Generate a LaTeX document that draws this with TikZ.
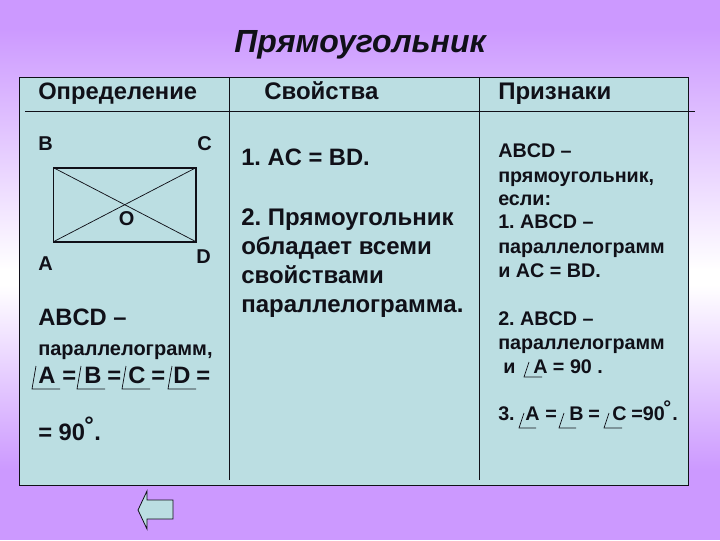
\documentclass[tikz,border=0pt]{standalone}
\usepackage{fontspec}
\setmainfont{Liberation Sans}
\definecolor{bgp}{HTML}{CC99FF}
\definecolor{panel}{HTML}{BBDEE2}
\definecolor{ink}{HTML}{101018}
\tikzset{
 txt/.style={anchor=base west,inner sep=0pt,text=ink,font=\fontsize{#1}{#1}\selectfont\bfseries},
 txt/.default=12,
 rule/.style={draw=ink,line width=0.75pt},
 ang/.style={draw=ink,line width=0.55pt},
}
\newcommand{\angsign}[2]{\draw[ang] (#1+4,#2-17) -- (#1,#2+6) -- (#1+28,#2+6);}
\frenchspacing
\begin{document}
\begin{tikzpicture}[x=0.75pt,y=-0.75pt]
\useasboundingbox (0,0) rectangle (720,540);
\fill[bgp] (0,0) rectangle (720,28);
\shade[top color=bgp,bottom color=white] (0,28) rectangle (720,270);
\fill[white] (0,270) rectangle (720,285);
\shade[top color=white,bottom color=bgp] (0,285) rectangle (720,470);
\fill[bgp] (0,470) rectangle (720,540);
\draw[rule,fill=panel] (19.5,77) rectangle (688,485);
\coordinate (h1) at (25,111); \coordinate (h2) at (695,111);
\coordinate (v1a) at (229.5,77); \coordinate (v1b) at (229.5,480);
\coordinate (v2a) at (479.5,77); \coordinate (v2b) at (479.5,480);
\draw[rule] (h1) -- (h2);
\draw[rule] (v1a) -- (v1b);
\draw[rule] (v2a) -- (v2b);
\node[txt=24,font=\fontsize{24}{24}\selectfont\bfseries\itshape] (title) at (234,52.5) {Прямоугольник};
\node[txt=17.8] (h-a) at (38,99) {Определение};
\node[txt=18] (h-b) at (264,99) {Свойства};
\node[txt=18] (h-c) at (498,99) {Признаки};
% rectangle
\coordinate (A) at (53.5,241.7); \coordinate (B) at (53.5,167.7);
\coordinate (C) at (196,167.7); \coordinate (D) at (196,241.7);
\draw[draw=ink,line width=1.2pt] (A) -- (B) -- (C) -- (D) -- cycle;
\draw[ang] (A) -- (C); \draw[ang] (B) -- (D);
\node[txt=15] (lb) at (38,150.7) {B};
\node[txt=15] (lc) at (197,150.7) {C};
\node[txt=15] (lo) at (118.5,225) {O};
\node[txt=15] (ld) at (196,263) {D};
\node[txt=15] (la) at (38,270) {A};
\node[txt=17.8] (abcd) at (38,325) {ABCD –};
\node[txt=15] (par) at (38,355) {параллелограмм,};
\node[txt=17.8] (ra) at (38,383) {A};
\node[txt=17.8] (re1) at (62,383) {=};
\node[txt=17.8] (rb) at (84,383) {B};
\node[txt=17.8] (re2) at (107,383) {=};
\node[txt=17.8] (rc) at (128,383) {C};
\node[txt=17.8] (re3) at (151,383) {=};
\node[txt=17.8] (rd) at (173,383) {D};
\node[txt=17.8] (re4) at (196,383) {=};
\angsign{32}{383}\angsign{77}{383}\angsign{122}{383}\angsign{168}{383}
\node[txt=17.8] (n90) at (38,440) {= 90};
\node[txt=17.8] (deg) at (84,433.5) {°};
\node[txt=17.8] (dot) at (94,440) {.};
% arrow
\draw[rule,line width=0.6pt,fill=panel] (173,500) -- (173,519) -- (147,519) -- (147,529) -- (138,510) -- (147,491) -- (147,500) -- cycle;
% middle
\node[txt=17.8] (p1) at (241,165) {1. AC = BD.};
\node[txt=18] (p2) at (241,225) {2. Прямоугольник};
\node[txt=18] (p3) at (241,254) {обладает всеми};
\node[txt=18] (p4) at (241,283) {свойствами};
\node[txt=18] (p5) at (241,312) {параллелограмма.};
% right
\node[txt=14.8] (r1) at (498,157) {ABCD –};
\node[txt=14.8] (r2) at (498,182) {прямоугольник,};
\node[txt=14.8] (r3) at (498,205) {если:};
\node[txt=14.8] (r4) at (498,228) {1. ABCD –};
\node[txt=14.8] (r5) at (498,253) {параллелограмм};
\node[txt=14.8] (r6) at (498,277) {и AC = BD.};
\node[txt=14.8] (r7) at (498,325) {2. ABCD –};
\node[txt=14.8] (r8) at (498,349) {параллелограмм};
\node[txt=14.8] (r9) at (503,373) {и};
\node[txt=14.8] (r10) at (533,373) {A = 90 .};
\draw[ang] (529,362) -- (524,377) -- (542,377);
\node[txt=14.8] (s1) at (498,420) {3.};
\node[txt=14.8] (s2) at (525,420) {A};
\node[txt=14.8] (s3) at (545,420) {=};
\node[txt=14.8] (s4) at (569,420) {B};
\node[txt=14.8] (s5) at (588,420) {=};
\node[txt=14.8] (s6) at (612,420) {C};
\node[txt=14.8] (s7) at (631,420) {=90};
\node[txt=14.8] (s8) at (663,414) {°};
\node[txt=14.8] (s9) at (672,420) {.};
\draw[ang] (524,413) -- (519,428) -- (536,428);
\draw[ang] (564,413) -- (559,428) -- (576,428);
\draw[ang] (609,413) -- (604,428) -- (622,428);
\end{tikzpicture}
\end{document}
